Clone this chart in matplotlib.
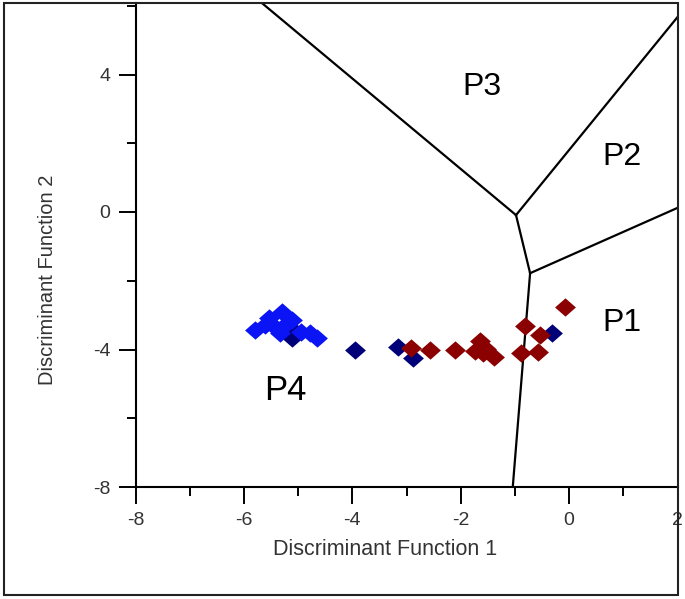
import matplotlib
matplotlib.use("Agg")
import matplotlib.pyplot as plt
from matplotlib.patches import Rectangle
from matplotlib.ticker import MultipleLocator

plt.rcParams['font.family'] = ['Liberation Sans', 'DejaVu Sans']
plt.rcParams['axes.unicode_minus'] = False

# group scores
blue_x = [-5.80, -5.53, -5.29, -5.40, -5.25, -5.12, -5.34, -4.94, -4.79, -4.65, -5.62]
blue_y = [-3.43, -3.08, -2.91, -3.37, -3.28, -3.14, -3.52, -3.49, -3.52, -3.66, -3.28]

navy_x = [-5.10, -5.12, -3.96, -3.16, -2.89, -0.32]
navy_y = [-3.43, -3.66, -4.01, -3.92, -4.24, -3.52]

red_x = [-2.91, -2.57, -2.11, -1.65, -1.74, -1.53, -1.39, -1.59, -0.82, -0.54, -0.88, -0.58, -0.08]
red_y = [-3.96, -4.01, -4.01, -3.74, -4.03, -3.99, -4.21, -4.11, -3.33, -3.58, -4.11, -4.06, -2.75]

# territorial map boundaries
j1 = (-0.98, -0.09)
j2 = (-0.72, -1.78)
edges = [
    (j1, (-5.67, 6.08)),
    (j1, (2.0, 5.67)),
    (j1, j2),
    (j2, (2.0, 0.12)),
    (j2, (-1.04, -8.0)),
]

region_names = ['P1', 'P2', 'P3', 'P4']
region_x = [0.97, 0.97, -1.61, -5.23]
region_y = [-3.23, 1.6, 3.63, -5.2]
region_size = [23, 23, 23, 25]

fig = plt.figure(figsize=(6.85, 5.99), dpi=100)
ax = fig.add_axes([135.6 / 685, 1 - 487 / 599, (677.5 - 135.6) / 685, (487 - 3) / 599])

diamond = [(-1, 0), (0, 0.88), (1, 0), (0, -0.88), (-1, 0)]

for a, b in edges:
    ax.plot([a[0], b[0]], [a[1], b[1]], color='black', lw=1.6, zorder=2)

ax.scatter(navy_x, navy_y, marker=diamond, s=225, color='#000078', linewidths=0, zorder=3)
ax.scatter(blue_x, blue_y, marker=diamond, s=225, color='#0a14f5', linewidths=0, zorder=4)
ax.scatter(red_x, red_y, marker=diamond, s=225, color='#8b0000', linewidths=0, zorder=5)

for name, x, y, fs in zip(region_names, region_x, region_y, region_size):
    ax.text(x, y, name, fontsize=fs, ha='center', va='center', color='black')

ax.set_xlim(-8, 2)
ax.set_ylim(-8, 6.08)
ax.xaxis.set_major_locator(MultipleLocator(2))
ax.xaxis.set_minor_locator(MultipleLocator(1))
ax.yaxis.set_major_locator(MultipleLocator(4))
ax.yaxis.set_minor_locator(MultipleLocator(2))
ax.tick_params(which='major', direction='out', length=12, width=1.4, labelsize=14, pad=6, colors='black')
ax.tick_params(which='minor', direction='out', length=6.5, width=1.4)
ax.tick_params(axis='x', labelcolor='#333333')
ax.tick_params(axis='y', labelcolor='#333333')

for side in ['top', 'right']:
    ax.spines[side].set_visible(False)
for side in ['left', 'bottom']:
    ax.spines[side].set_linewidth(1.5)

ax.set_xlabel('Discriminant Function 1', fontsize=15.5, color='#333333', va='center')
ax.set_ylabel('Discriminant Function 2', fontsize=14.5, color='#333333', va='center')
ax.xaxis.set_label_coords(0.46, -0.13)
ax.yaxis.set_label_coords(-0.163, 0.428)

# outer frame around the whole picture
fig.patches.append(Rectangle((3.5 / 685, 1 - 595 / 599), (678 - 3.5) / 685, (595 - 3) / 599,
                             transform=fig.transFigure, fill=False, lw=1.5, edgecolor='#222222'))

fig.savefig('out.png', dpi=100)
